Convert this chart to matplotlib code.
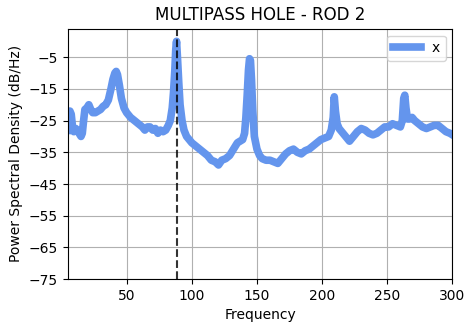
import matplotlib
matplotlib.use("Agg")
import matplotlib.pyplot as plt

freq = [4.7, 5.5, 6.5, 7.5, 8.5, 9.5, 11, 12, 13.5, 15, 16, 17, 18, 19.5, 21, 22.5, 24, 26, 28, 30,
        32, 34, 36, 38, 39.5, 41, 42, 43, 44.5, 46, 48, 50, 53, 56, 59, 62, 64, 66, 68, 70,
        72, 74, 76, 78, 80, 82, 83.5, 85, 86, 87, 87.7, 88.3, 89, 90, 91, 92.5, 94, 96, 98, 100,
        103, 106, 109, 112, 115, 118, 120.5, 123, 126, 129, 132, 135, 137, 139, 140.5, 141.5, 142.5, 143.5, 144.3, 145,
        145.8, 146.8, 148, 150, 152, 154, 157, 160, 163, 166, 169, 172, 175, 178, 181, 184, 187, 190, 193, 196,
        199, 202, 205, 207, 208.5, 209.3, 210.2, 211.5, 213, 215, 218, 221, 224, 227, 230, 233, 236, 239, 242, 245,
        248, 251, 254, 257, 260, 261.5, 262.6, 263.4, 264.3, 265.5, 267, 269, 271, 274, 277, 280, 283, 286, 289, 292,
        295, 298, 300]
psd = [-28, -26, -22, -23, -27, -28.5, -27.5, -28, -29, -30, -29, -25, -21.5, -21, -20, -21.5, -22.5, -22.5, -22, -21.5,
       -20.5, -20, -18.5, -15, -12, -10, -9.5, -10.5, -14, -18, -21, -22.5, -24, -25, -26, -27, -28, -27, -27, -28,
       -27.5, -29, -28, -28.5, -28, -26.5, -25, -21, -16, -9, -2.5, 0, -5, -13, -20, -25, -28, -30, -31, -32,
       -33, -34, -35, -36, -37.5, -38, -39, -37.5, -37, -36, -34, -32, -31.5, -31, -29, -24, -17, -9, -5.5, -6,
       -12, -22, -30, -34, -36, -37, -37.5, -37.5, -38, -38.5, -37, -35.5, -34.5, -34, -35, -35.5, -34.5, -34, -33, -32,
       -31, -30.5, -30, -28, -24, -17.5, -22, -26, -27.5, -28.5, -30, -31.5, -30, -28.5, -27.5, -28, -29, -29.5, -29, -28,
       -27, -27, -26, -26.5, -27, -25, -18, -17, -21, -24.5, -24.5, -24, -25, -26, -27, -27.5, -27, -26.5, -26.5, -27.5,
       -28.5, -29, -29.5]
marker_freq = 88.3
yticks = [-75, -65, -55, -45, -35, -25, -15, -5]
xticks = [50, 100, 150, 200, 250, 300]

fig = plt.figure(figsize=(4.66, 3.25), dpi=100)
ax = fig.add_axes([0.145, 0.141, 0.826, 0.771])
ax.plot(freq, psd, color='cornflowerblue', lw=5.5, label='x')
ax.axvline(marker_freq, color='black', ls='--', lw=1.5, alpha=0.8)
ax.set_xlim(4.7, 300)
ax.set_ylim(-75, 4)
ax.set_xticks(xticks)
ax.set_yticks(yticks)
ax.grid(True)
ax.set_title('MULTIPASS HOLE - ROD 2')
ax.set_xlabel('Frequency')
ax.set_ylabel('Power Spectral Density (dB/Hz)')
ax.legend(loc='upper right')
fig.savefig('out.png', dpi=100)
